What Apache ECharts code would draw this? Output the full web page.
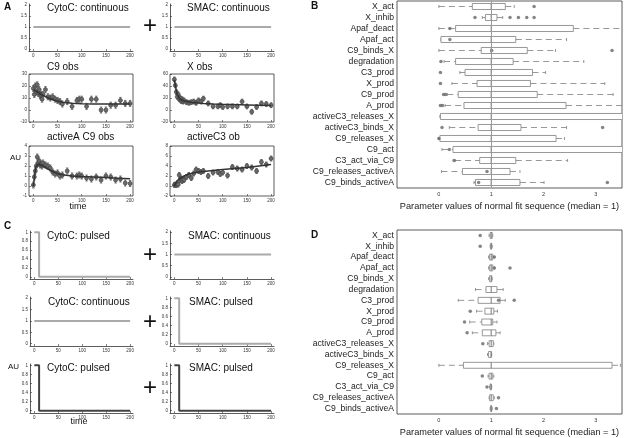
<!DOCTYPE html>
<html><head><meta charset="utf-8">
<script src="https://cdn.jsdelivr.net/npm/echarts@6/dist/echarts.min.js"></script>
<style>html,body{margin:0;padding:0;background:#fff}#c{width:624px;height:438px}</style>
</head><body><div id="c"></div>
<script>
// ---------- DATA ----------
const obsT = [0,2,4,6,8,10,12,14,16,18,20,25,30,35,40,45,50,55,60,70,80,90,95,100,110,120,130,140,150,160,170,180,190,200];
const c9Obs = [18,13,20,15,21,14,17,12,13,9,13,17,11,10,11,9,8,7,5,7,3,8,9,9,3,9,9,0,0,4,4,8,5.5,5.5];
const xObs = [51,41,30,22,26,18,20,15,18,14,16,13,12,13,14,12,16,14,19,11,6,6,8,5,6,6,6,14,6,-3,5,11,10,8];
const actAObs = [0.1,0.9,1.5,2,2.9,2.3,2.5,2.1,2.2,2.0,2.3,2.1,2.0,1.8,1.4,1.2,1.3,1.0,1.1,1.5,1.0,1.0,1.1,1.0,0.8,0.7,0.9,0.6,1.0,0.9,0.6,0.7,0.3,0.25];
const actC3Obs = [0.2,0.3,0.2,0.4,0.3,2.2,1.2,1.5,1.0,1.4,1.2,1.8,2.2,1.6,2.5,3.3,3.0,2.8,3.0,2.0,2.7,2.8,2.4,2.7,2.1,3.8,3.5,3.3,4.0,3.7,3.0,4.8,4.3,5.5];
const c9Err = 2.5, xErr = 4, actAErr = 0.3, actC3Err = 0.5;
const fitT = [0,5,10,15,20,30,40,50,60,80,100,125,150,175,200];
const c9Fit = [17,16,14.5,13.3,12.2,10.2,8.6,7.4,6.5,5.7,5.3,5.1,5,5,5];
const xFit = [50,28,20,17,15.5,13.5,12.3,11.5,11,10.2,9.6,9,8.5,8,7.5];
const actAFit = [0,1.9,2.2,2.1,2.0,1.7,1.45,1.25,1.12,1.0,0.95,0.9,0.85,0.78,0.72];
const actC3Fit = [0,1.0,1.4,1.7,2.0,2.4,2.6,2.8,2.9,3.1,3.3,3.5,3.7,4.0,4.3];
const contT = [0,200], contY = [1,1];
const pulseT = [0,10,10,200], pulseY = [1,1,0,0];
const timeTicks = [0,50,100,150,200];

const params = ['X_act','X_inhib','Apaf_deact','Apaf_act','C9_binds_X','degradation','C3_prod','X_prod','C9_prod','A_prod','activeC3_releases_X','activeC3_binds_X','C9_releases_X','C9_act','C3_act_via_C9','C9_releases_activeA','C9_binds_activeA'];
const bLow  = [0.00,0.83,0.00,0.04,0.00,0.10,0.40,0.25,0.16,0.12,0.02,0.20,0.00,0.06,0.31,0.05,0.67];
const bQ1   = [0.64,0.89,0.32,0.04,0.81,0.32,0.50,0.73,0.37,0.48,0.03,0.75,0.02,0.27,0.78,0.45,0.70];
const bMed  = [1,1,1,1,1,1,1,1,1,1,1,1,1,1,1,1,1];
const bQ3   = [1.27,1.11,2.57,1.47,1.69,1.42,1.79,1.75,1.88,2.43,3.6,1.57,2.24,3.6,1.47,1.36,1.55];
const bHigh = [1.44,1.22,3.6,2.44,2.23,2.77,2.04,3.17,3.33,3.6,3.6,2.44,2.40,3.6,2.46,1.55,2.01];
const bOut = [[1.82,0],[0.69,1],[1.36,1],[1.52,1],[1.68,1],[1.82,1],[0.21,2],[0.21,3],[1.01,4],[3.31,4],[0.04,5],[0.03,6],[0.03,7],[0.09,8],[0.13,8],[0.03,9],[0.07,9],[0.06,11],[3.13,11],[0.0,12],[0.2,13],[0.29,14],[0.92,15],[0.76,16],[3.22,16]];
const dLow  = [0.96,0.98,0.95,0.95,0.95,0.70,0.37,0.72,0.59,0.64,0.93,0.93,0.00,0.94,0.97,0.96,0.98];
const dQ1   = [0.98,0.99,0.97,0.97,0.97,0.90,0.75,0.88,0.82,0.83,0.96,0.95,0.47,0.96,0.98,0.97,0.99];
const dMed  = [1,1,1,1,1,1,1,1,1,1,1,1,1,1,1,1,1];
const dQ3   = [1.02,1.01,1.03,1.03,1.01,1.11,1.17,1.05,1.03,1.09,1.04,1.00,3.31,1.03,1.00,1.04,1.01];
const dHigh = [1.03,1.02,1.05,1.06,1.02,1.23,1.27,1.12,1.11,1.17,1.05,1.01,3.47,1.05,1.01,1.06,1.02];
const dOut = [[0.79,0],[0.79,1],[1.06,2],[1.06,3],[1.36,3],[1.14,6],[1.44,6],[0.60,7],[0.49,8],[0.54,9],[0.84,10],[0.83,13],[0.92,14],[1.14,15],[1.10,16]];
const paramTicks = [-0.5,0,0.5,1,1.5,2,2.5,3,3.5];
const paramLabels = [0,1,2,3];

// ---------- LAYOUT ----------
const FONT = 'Liberation Sans, Arial, sans-serif';
const grids = [], xAxes = [], yAxes = [], series = [];
function addSmall(box, ymin, ymax, yTicks, yInterval, boxed){
  const gi = grids.length, xi = xAxes.length, yi = yAxes.length;
  grids.push({left:box[0], top:box[1], width:box[2], height:box[3], show:!!boxed, borderColor:'#333', borderWidth:0.8});
  xAxes.push({gridIndex:gi, type:'value', min:-9, max:206,
    axisLine:{show:!boxed, onZero:false, lineStyle:{color:'#333',width:0.8}}, splitLine:{show:false},
    axisTick:{inside:true, length:2, lineStyle:{color:'#333',width:0.6}, customValues:timeTicks},
    axisLabel:{fontSize:4.5, color:'#333', margin:2, fontFamily:FONT, customValues:timeTicks}});
  const ya = {gridIndex:gi, type:'value', min:ymin, max:ymax,
    axisLine:{show:!boxed, onZero:false, lineStyle:{color:'#333',width:0.8}}, splitLine:{show:false},
    axisTick:{inside:true, length:2, lineStyle:{color:'#333',width:0.6}},
    axisLabel:{fontSize:4.5, color:'#333', margin:2, fontFamily:FONT}};
  if (yTicks){ ya.axisTick.customValues = yTicks; ya.axisLabel.customValues = yTicks; }
  if (yInterval){ ya.interval = yInterval; }
  yAxes.push(ya);
  return [xi, yi];
}
function lineSeries(a, xs, ys, color, width){
  series.push({type:'line', xAxisIndex:a[0], yAxisIndex:a[1], data:xs.map((x,i)=>[x,ys[i]]),
    showSymbol:false, symbol:'none', lineStyle:{color:color, width:width}, silent:true, animation:false, z:3});
}
function errSeries(a, xs, ys, err){
  series.push({type:'custom', xAxisIndex:a[0], yAxisIndex:a[1], data:xs.map((x,i)=>[x,ys[i]]), animation:false, silent:true, z:2,
    renderItem:function(p, api){
      const x=api.value(0), y=api.value(1);
      const c=api.coord([x,y]), lo=api.coord([x,y-err]), hi=api.coord([x,y+err]);
      const st={stroke:'#555', lineWidth:0.8};
      return {type:'group', children:[
        {type:'line', shape:{x1:c[0],y1:lo[1],x2:c[0],y2:hi[1]}, style:st},
        {type:'line', shape:{x1:c[0]-1.2,y1:lo[1],x2:c[0]+1.2,y2:lo[1]}, style:st},
        {type:'line', shape:{x1:c[0]-1.2,y1:hi[1],x2:c[0]+1.2,y2:hi[1]}, style:st},
        {type:'circle', shape:{cx:c[0],cy:c[1],r:2}, style:{fill:'#6a6a6a', stroke:'#444', lineWidth:0.7}}
      ]};
    }});
}
// Panel A
let g;
const y02 = [0,0.5,1,1.5,2], y01 = [0,0.2,0.4,0.6,0.8,1];
g = addSmall([29,4,104,47], -0.1, 2.05, y02, null, false); lineSeries(g, contT, contY, '#aaa', 2);
g = addSmall([170,4,104,47], -0.1, 2.05, y02, null, false); lineSeries(g, contT, contY, '#aaa', 2);
g = addSmall([29,74,104,48], -10, 30, null, 10, true); errSeries(g, obsT, c9Obs, c9Err); lineSeries(g, fitT, c9Fit, '#333', 1.5);
g = addSmall([170,74,104,48], -20, 60, null, 20, true); errSeries(g, obsT, xObs, xErr); lineSeries(g, fitT, xFit, '#333', 1.5);
g = addSmall([29,146,104,50], -1, 4, null, 1, true); errSeries(g, obsT, actAObs, actAErr); lineSeries(g, fitT, actAFit, '#333', 1.5);
g = addSmall([170,146,104,50], -2, 8, null, 2, true); errSeries(g, obsT, actC3Obs, actC3Err); lineSeries(g, fitT, actC3Fit, '#333', 1.5);
// Panel C
g = addSmall([30,231,103,48], -0.05, 1.03, y01, null, false); lineSeries(g, pulseT, pulseY, '#aaa', 2);
g = addSmall([170,231,104,48], -0.1, 2.05, y02, null, false); lineSeries(g, contT, contY, '#aaa', 2);
g = addSmall([30,297,103,49], -0.1, 2.05, y02, null, false); lineSeries(g, contT, contY, '#aaa', 2);
g = addSmall([170,297,104,49], -0.05, 1.03, y01, null, false); lineSeries(g, pulseT, pulseY, '#aaa', 2);
g = addSmall([30,364,103,49], -0.05, 1.03, y01, null, false); lineSeries(g, pulseT, pulseY, '#444', 2);
g = addSmall([170,364,104,49], -0.05, 1.03, y01, null, false); lineSeries(g, pulseT, pulseY, '#444', 2);

// Box panels B and D
function addBox(box, low, q1, med, q3, high, outs, refLine){
  const gi = grids.length, xi = xAxes.length, yi = yAxes.length;
  grids.push({left:box[0], top:box[1], width:box[2], height:box[3], show:true, borderColor:'#333', borderWidth:0.8});
  xAxes.push({gridIndex:gi, type:'value', min:-0.8, max:3.5,
    name:'Parameter values of normal fit sequence (median = 1)', nameLocation:'middle', nameGap:14,
    nameTextStyle:{fontSize:9.2, color:'#222', fontFamily:FONT},
    axisLine:{show:false}, splitLine:{show:false},
    axisTick:{inside:true, length:2, lineStyle:{color:'#333',width:0.6}, customValues:paramTicks},
    axisLabel:{fontSize:5.5, color:'#333', margin:3, fontFamily:FONT, customValues:paramLabels}});
  xAxes.push({gridIndex:gi, type:'value', position:'top', min:-0.8, max:3.5,
    axisLine:{show:false}, splitLine:{show:false}, axisLabel:{show:false},
    axisTick:{inside:true, length:2, lineStyle:{color:'#333',width:0.6}, customValues:paramTicks}});
  yAxes.push({gridIndex:gi, type:'category', data:params, inverse:true,
    axisLine:{show:false}, splitLine:{show:false},
    axisTick:{inside:true, length:2, alignWithLabel:true, interval:0, lineStyle:{color:'#333',width:0.6}},
    axisLabel:{fontSize:8.6, color:'#222', margin:3, interval:0, fontFamily:FONT}});
  series.push({type:'custom', xAxisIndex:xi, yAxisIndex:yi, clip:true, animation:false, silent:true,
    data: params.map((p,i)=>[i, low[i], q1[i], med[i], q3[i], high[i]]),
    encode:{x:[1,2,3,4,5], y:0},
    renderItem:function(prm, api){
      const c=api.value(0);
      const pl=api.coord([api.value(1),c]), p1=api.coord([api.value(2),c]), pm=api.coord([api.value(3),c]),
            p3=api.coord([api.value(4),c]), ph=api.coord([api.value(5),c]);
      const h=api.size([0,1])[1]*0.55, y=pl[1];
      const st={stroke:'#8c8c8c', lineWidth:0.9, fill:null};
      const dash={stroke:'#8c8c8c', lineWidth:0.9, lineDash:[6,4]};
      return {type:'group', children:[
        {type:'line', shape:{x1:pl[0],y1:y,x2:p1[0],y2:y}, style:dash},
        {type:'line', shape:{x1:p3[0],y1:y,x2:ph[0],y2:y}, style:dash},
        {type:'line', shape:{x1:pl[0],y1:y-1.5,x2:pl[0],y2:y+1.5}, style:st},
        {type:'line', shape:{x1:ph[0],y1:y-1.5,x2:ph[0],y2:y+1.5}, style:st},
        {type:'rect', shape:{x:p1[0],y:y-h/2,width:Math.max(p3[0]-p1[0],0.5),height:h}, style:{stroke:'#8c8c8c',lineWidth:0.9,fill:'#fff'}},
        {type:'line', shape:{x1:pm[0],y1:y-h/2,x2:pm[0],y2:y+h/2}, style:{stroke:'#777',lineWidth:1}}
      ]};
    }});
  series.push({type:'scatter', xAxisIndex:xi, yAxisIndex:yi, data:outs, symbolSize:3.5, animation:false, silent:true,
    itemStyle:{color:'#666'}, z:4});
  if (refLine){
    series.push({type:'line', xAxisIndex:xi, yAxisIndex:yi, data:[], silent:true, animation:false,
      markLine:{silent:true, symbol:'none', label:{show:false}, data:[{xAxis:1}], lineStyle:{color:'#999', type:'solid', width:1}, animation:false}});
  }
}
addBox([397,1,225,187], bLow, bQ1, bMed, bQ3, bHigh, bOut, true);
addBox([397,230,225,184], dLow, dQ1, dMed, dQ3, dHigh, dOut, false);

function txt(s, x, y, size, opts){
  opts = opts || {};
  return {type:'text', x:x, y:y, silent:true, z:100, style:{text:s, fill:opts.fill||'#111',
    font:(opts.weight||'normal')+' '+size+'px '+FONT, align:opts.align||'left', verticalAlign:'middle'}};
}
const graphics = [
  txt('A',4,7,10,{weight:'bold'}), txt('B',311,6,10,{weight:'bold'}),
  txt('C',4,226,10,{weight:'bold'}), txt('D',311,235,10,{weight:'bold'}),
  txt('CytoC: continuous',47,8,10), txt('SMAC: continuous',187,8,10),
  txt('C9 obs',47,67,10), txt('X obs',187,67,10),
  txt('activeA C9 obs',47,137,10), txt('activeC3 ob',187,137,10),
  txt('AU',10,158,8), txt('time',78,207,9,{align:'center'}),
  txt('+',150,26,24,{align:'center'}),
  txt('CytoC: pulsed',47,236,10), txt('SMAC: continuous',188,236,10),
  txt('CytoC: continuous',48,302,10), txt('SMAC: pulsed',189,302,10),
  txt('CytoC: pulsed',47,368,10), txt('SMAC: pulsed',189,368,10),
  txt('AU',8,367,8), txt('time',79,422,9,{align:'center'}),
  txt('+',150,255,24,{align:'center'}), txt('+',150,322,24,{align:'center'}), txt('+',150,388,24,{align:'center'})
];

const chart = echarts.init(document.getElementById('c'), null, {renderer:'canvas'});
chart.setOption({animation:false, backgroundColor:'#fff', grid:grids, xAxis:xAxes, yAxis:yAxes, series:series, graphic:graphics});
</script></body></html>
